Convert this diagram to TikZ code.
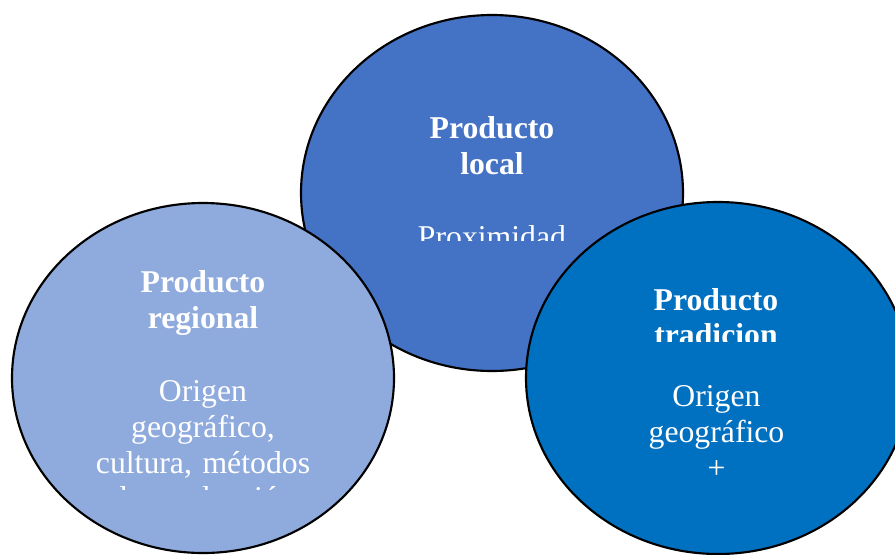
\documentclass[tikz,border=0pt]{standalone}
\usepackage{fontspec}
\setmainfont{Liberation Serif}
\usetikzlibrary{shapes.geometric}

\definecolor{localblue}{HTML}{4472C4}
\definecolor{regionalblue}{HTML}{8FAADC}
\definecolor{tradblue}{HTML}{0070C0}

\begin{document}
\begin{tikzpicture}[x=0.75pt, y=-0.75pt,
	bubble/.style={ellipse, draw=black, line width=1.6pt, inner sep=0pt, outer sep=0pt},
	heading/.style={text=white, text width=300pt, align=center, inner sep=0pt, anchor=base,
		font=\fontsize{23.8pt}{26.8pt}\selectfont\bfseries},
	content/.style={heading, font=\fontsize{23.8pt}{26.8pt}\selectfont},]

\path[use as bounding box, clip] (0,0) rectangle (895,554);

\node[bubble, fill=localblue, minimum width=286.5pt, minimum height=267pt] (local) at (492,193) {};
\node[heading] (localtitle) at (492,138.3) {Producto\\local};
\begin{scope}
	\clip (300,0) rectangle (684,240); % text box cuts the body off
	\node[content] (localtext) at (492,247.5) {Proximidad};
\end{scope}

\node[bubble, fill=regionalblue, minimum width=286.5pt, minimum height=262.5pt] (regional) at (203,378) {};
\node[heading] (regionaltitle) at (203,292.7) {Producto\\regional};
\begin{scope}
	\clip (0,350) rectangle (400,489.5);
	\node[content] (regionaltext) at (203,401.7) {Origen\\geográfico,\\cultura, métodos\\de producción};
\end{scope}

\node[bubble, fill=tradblue, minimum width=288pt, minimum height=264pt] (tradicional) at (718,378) {};
\begin{scope}
	\clip (520,250) rectangle (900,341.5); % second title line cut off
	\node[heading] (tradtitle) at (716,310) {Producto\\tradicion};
\end{scope}
\node[content] (tradtext) at (716.5,406.7) {Origen\\geográfico\\+};
\end{tikzpicture}
\end{document}
